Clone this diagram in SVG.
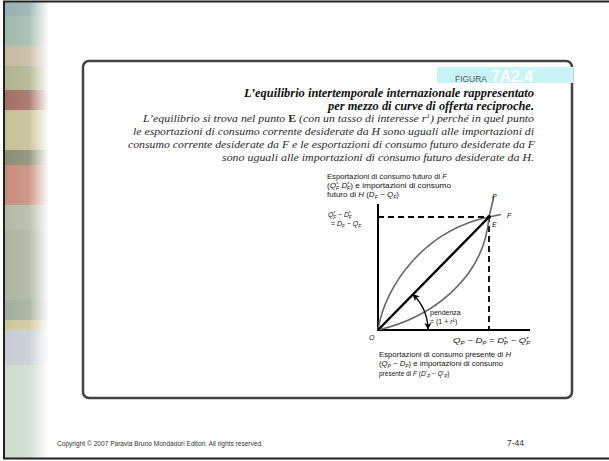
<svg xmlns="http://www.w3.org/2000/svg" width="609" height="461" viewBox="0 0 609 461">
<style>
.ser{font-family:"Liberation Serif","Times New Roman",serif;font-style:italic}
.ttl{font-weight:bold;fill:#111;font-size:11.5px}
.body{fill:#2a2a2a;font-size:11px}
.sm{font-family:"Liberation Sans",Arial,sans-serif;font-size:7px;fill:#111}
.it{font-style:italic}
.sb{font-size:4.5px;font-style:italic;baseline-shift:-1.5px}
.sp{font-size:4.5px;baseline-shift:2.5px}
.sp2{font-size:4px;baseline-shift:1.8px}
.ax{stroke:#000;stroke-width:2;fill:none}
.dash{stroke:#000;stroke-width:1.8;stroke-dasharray:6,4;fill:none}
.crv{stroke:#666;stroke-width:1.6;fill:none}
</style>
<defs>
<linearGradient id="fade" x1="0" y1="0" x2="1" y2="0">
<stop offset="0" stop-color="#fff" stop-opacity="0.2"/>
<stop offset="0.5" stop-color="#fff" stop-opacity="0.3"/>
<stop offset="0.9" stop-color="#fff" stop-opacity="1"/>
<stop offset="1" stop-color="#fff" stop-opacity="1"/>
</linearGradient>
<marker id="ah" viewBox="0 0 10 10" refX="9" refY="5" markerWidth="7" markerHeight="7" markerUnits="userSpaceOnUse" orient="auto-start-reverse">
<path d="M0,0 L10,5 L0,10 L3,5 z" fill="#000"/>
</marker>
</defs>
<rect width="609" height="461" fill="#fff"/>
<g id="sidebar">
<rect x="4" y="2" width="50" height="14" fill="#7c9c9c"/>
<rect x="4" y="16" width="50" height="30" fill="#8aa898"/>
<rect x="4" y="46" width="50" height="20" fill="#b8a888"/>
<rect x="4" y="66" width="50" height="24" fill="#9aa070"/>
<rect x="4" y="90" width="50" height="20" fill="#8a4a3a"/>
<rect x="4" y="110" width="50" height="40" fill="#b8b078"/>
<rect x="4" y="150" width="50" height="15" fill="#6a7050"/>
<rect x="4" y="165" width="50" height="40" fill="#b87058"/>
<rect x="4" y="205" width="50" height="25" fill="#a0a890"/>
<rect x="4" y="230" width="50" height="70" fill="#98a088"/>
<rect x="4" y="300" width="50" height="20" fill="#8a9a80"/>
<rect x="4" y="320" width="50" height="10" fill="#c0b880"/>
<rect x="4" y="330" width="50" height="35" fill="#b8c0c8"/>
<rect x="4" y="365" width="50" height="94" fill="#c0d4c0"/>
<rect x="4" y="2" width="50" height="457" fill="url(#fade)"/>
</g>
<rect x="4" y="1.5" width="612" height="457" fill="none" stroke="#222" stroke-width="2"/>
<g id="frame">
<rect x="83" y="61" width="489" height="337" rx="6" fill="#fff" stroke="#444" stroke-width="2.5"/>
<rect x="437" y="67" width="136" height="16" fill="#c8f4f8"/>
<text x="455" y="82" font-family="'Liberation Sans',sans-serif" font-size="9.5" fill="#555" textLength="32" lengthAdjust="spacingAndGlyphs">FIGURA</text>
<text x="491" y="82" font-family="'Liberation Sans',sans-serif" font-size="16" font-weight="bold" fill="#fff" textLength="42" lengthAdjust="spacingAndGlyphs">7A2.4</text>
</g>
<g id="caption" text-anchor="end">
<text class="ser ttl" x="534" y="97" textLength="290" lengthAdjust="spacingAndGlyphs">L’equilibrio intertemporale internazionale rappresentato</text>
<text class="ser ttl" x="534" y="110" textLength="206" lengthAdjust="spacingAndGlyphs">per mezzo di curve di offerta reciproche.</text>
<text class="ser body" x="534" y="122" textLength="391" lengthAdjust="spacingAndGlyphs">L’equilibrio si trova nel punto <tspan font-weight="bold" font-style="normal">E</tspan> (con un tasso di interesse <tspan>r</tspan><tspan font-size="7" baseline-shift="super">1</tspan>) perché in quel punto</text>
<text class="ser body" x="534" y="135" textLength="401" lengthAdjust="spacingAndGlyphs">le esportazioni di consumo corrente desiderate da H sono uguali alle importazioni di</text>
<text class="ser body" x="535" y="148" textLength="407" lengthAdjust="spacingAndGlyphs">consumo corrente desiderate da F e le esportazioni di consumo futuro desiderate da F</text>
<text class="ser body" x="534" y="161" textLength="312" lengthAdjust="spacingAndGlyphs">sono uguali alle importazioni di consumo futuro desiderate da H.</text>
</g>
<g id="connectors">
<path class="ax" d="M378,204 V330 H530"/>
<path class="dash" d="M378,217 H489 V330"/>
<path class="crv" d="M378,330 C385,285 425,230 489,217 L501,214.5"/>
<path class="crv" d="M378,330 C430,318 484,280 489,217 L494,196"/>
<path d="M378,330 L489,217" stroke="#000" stroke-width="2.4" fill="none"/>
<path d="M413,294.5 A50,50 0 0 1 428,329" stroke="#000" stroke-width="1.3" fill="none" marker-start="url(#ah)" marker-end="url(#ah)"/>
<circle cx="489" cy="217" r="2" fill="#000"/>
</g>
<g id="labels" class="sm">
<text x="327" y="179" textLength="120" lengthAdjust="spacingAndGlyphs">Esportazioni di consumo futuro di <tspan class="it">F</tspan></text>
<text x="327" y="188" textLength="124" lengthAdjust="spacingAndGlyphs">(<tspan class="it">Q</tspan><tspan class="sp">*</tspan><tspan class="sb" dx="-2">F</tspan>   <tspan class="it">D</tspan><tspan class="sp">*</tspan><tspan class="sb" dx="-2">F</tspan>) e importazioni di consumo</text>
<text x="327" y="197" textLength="72" lengthAdjust="spacingAndGlyphs">futuro di <tspan class="it">H</tspan> (<tspan class="it">D</tspan><tspan class="sb">F</tspan> − <tspan class="it">Q</tspan><tspan class="sb">F</tspan>)</text>
<text x="328" y="217"><tspan class="it">Q</tspan><tspan class="sp">*</tspan><tspan class="sb" dx="-2">F</tspan> − <tspan class="it">D</tspan><tspan class="sp">*</tspan><tspan class="sb" dx="-2">F</tspan></text>
<text x="331" y="226">= <tspan class="it">D</tspan><tspan class="sb">F</tspan> − <tspan class="it">Q</tspan><tspan class="sb">F</tspan></text>
<text x="492" y="199" class="it">P</text>
<text x="507" y="218" class="it">F</text>
<text x="492" y="227" class="it">E</text>
<text x="369" y="340" class="it">O</text>
<text x="430" y="315">pendenza</text>
<text x="430" y="324">= (1 + <tspan class="it">r</tspan><tspan class="sp">1</tspan>)</text>
<text x="453" y="343" textLength="77" lengthAdjust="spacingAndGlyphs"><tspan class="it">Q</tspan><tspan class="sb">P</tspan> − <tspan class="it">D</tspan><tspan class="sb">P</tspan> = <tspan class="it">D</tspan><tspan class="sp">*</tspan><tspan class="sb" dx="-2">P</tspan> − <tspan class="it">Q</tspan><tspan class="sp">*</tspan><tspan class="sb" dx="-2">P</tspan></text>
<text x="379" y="356.5" textLength="132" lengthAdjust="spacingAndGlyphs">Esportazioni di consumo presente di <tspan class="it">H</tspan></text>
<text x="379" y="365.5" textLength="124" lengthAdjust="spacingAndGlyphs">(<tspan class="it">Q</tspan><tspan class="sb">P</tspan> − <tspan class="it">D</tspan><tspan class="sb">P</tspan>) e importazioni di consumo</text>
<text x="379" y="376" font-size="6.5">presente di <tspan class="it">F</tspan> (<tspan class="it">D</tspan><tspan class="sp2">*</tspan><tspan class="sb">P</tspan> − <tspan class="it">Q</tspan><tspan class="sp2">*</tspan><tspan class="sb">P</tspan>)</text>
</g>
<g id="footer" font-family="'Liberation Sans',Arial,sans-serif" fill="#333">
<text x="57" y="446" font-size="6.5" textLength="206" lengthAdjust="spacingAndGlyphs">Copyright © 2007 Paravia Bruno Mondadori Editori. All rights reserved.</text>
<text x="507" y="446" font-size="8.5">7-44</text>
</g>
</svg>
